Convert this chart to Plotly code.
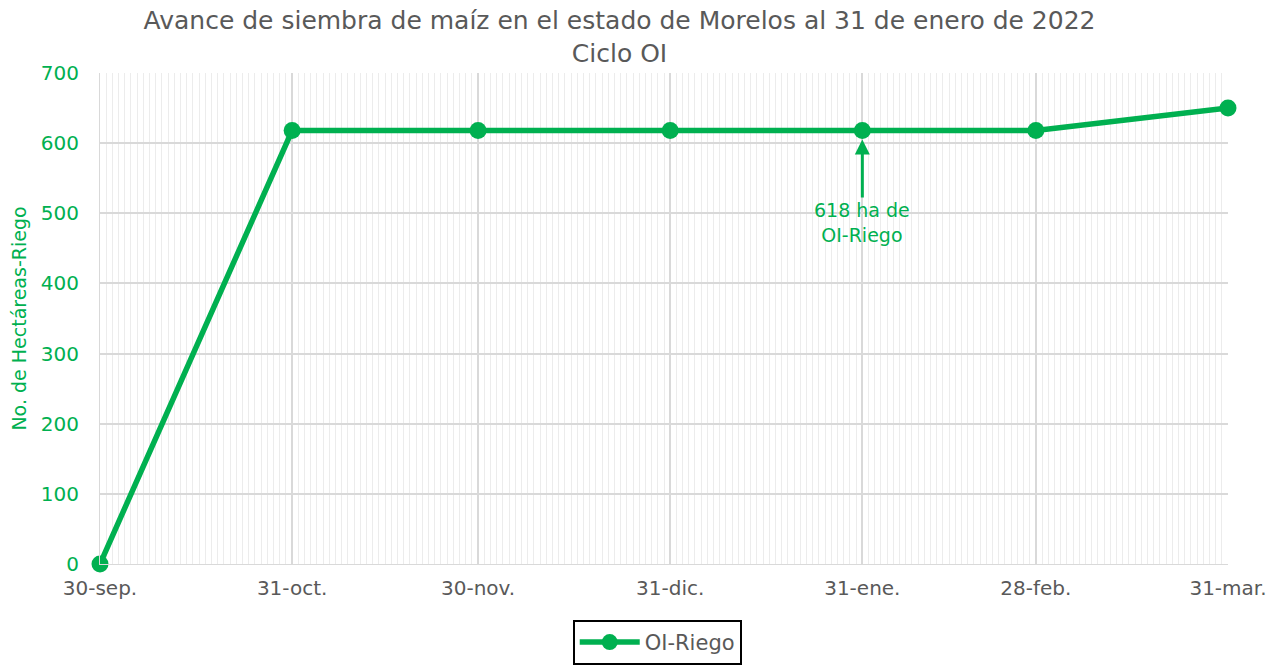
import plotly.graph_objects as go

dates = ["2021-09-30", "2021-10-31", "2021-11-30", "2021-12-31", "2022-01-31", "2022-02-28", "2022-03-31"]
tick_labels = ["30-sep.", "31-oct.", "30-nov.", "31-dic.", "31-ene.", "28-feb.", "31-mar."]
oi_riego = [0, 618, 618, 618, 618, 618, 650]

GREEN = "#00B050"
GRAY = "#595959"
FONT = "DejaVu Sans"

fig = go.Figure()
fig.add_trace(go.Scatter(
    x=dates, y=oi_riego, mode="lines+markers", name="OI-Riego",
    line=dict(color=GREEN, width=5.5),
    marker=dict(color=GREEN, size=17),
    cliponaxis=False,
))

fig.add_annotation(
    x=dates[4], y=oi_riego[4], xref="x", yref="y",
    text="618 ha de<br>OI-Riego", showarrow=True,
    arrowhead=2, arrowsize=1, arrowwidth=3, arrowcolor=GREEN,
    ax=0, ay=92, standoff=9,
    font=dict(family=FONT, size=19, color=GREEN),
)

fig.update_layout(
    width=1282, height=665,
    margin=dict(l=92, r=62, t=65, b=109, autoexpand=False),
    paper_bgcolor="white", plot_bgcolor="white",
    title=dict(
        text="Avance de siembra de maíz en el estado de Morelos al 31 de enero de 2022<br>Ciclo OI",
        x=0.477, xanchor="center", xref="container", yref="container", y=0.968, yanchor="top",
        font=dict(family=FONT, size=25, color=GRAY),
        automargin=False,
    ),
    font=dict(family=FONT),
    showlegend=True,
    legend=dict(
        orientation="h", x=0.494, xanchor="center", y=-0.114, yanchor="top",
        bordercolor="black", borderwidth=2,
        font=dict(family=FONT, size=21, color=GRAY),
        itemwidth=60,
    ),
    xaxis=dict(
        type="date", automargin=False,
        range=["2021-09-30", "2022-03-31"],
        tickmode="array", tickvals=dates, ticktext=tick_labels,
        tickfont=dict(family=FONT, size=20, color=GRAY),
        showgrid=True, gridcolor="#d9d9d9", gridwidth=2,
        minor=dict(tickmode="linear", tick0="2021-09-30", dtick=86400000,
                   showgrid=True, gridcolor="#ececec", gridwidth=1),
        showline=True, linecolor="#d9d9d9", linewidth=1,
        ticks="", zeroline=False, ticklabelstandoff=6,
    ),
    yaxis=dict(
        range=[0, 700], dtick=100, automargin=False,
        tickfont=dict(family=FONT, size=20, color=GREEN),
        title=dict(text="No. de Hectáreas-Riego", font=dict(family=FONT, size=19, color=GREEN), standoff=14),
        showgrid=True, gridcolor="#d9d9d9", gridwidth=2,
        zeroline=False, showline=True, linecolor="#d9d9d9",
        ticks="", ticklabelstandoff=16,
    ),
)

fig.write_html("out.html")
